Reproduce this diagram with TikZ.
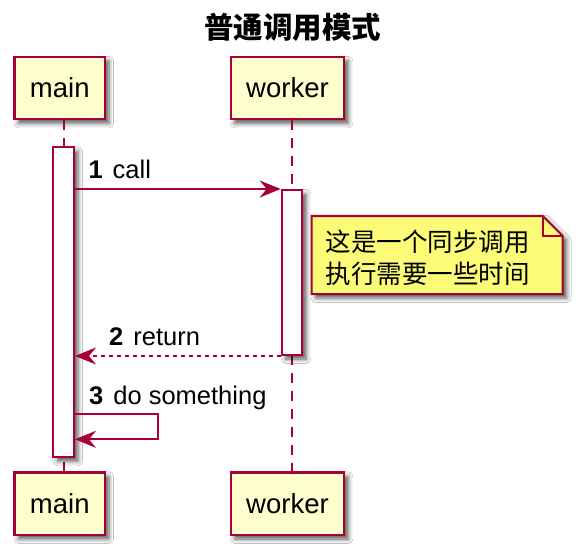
\documentclass[tikz,border=0pt]{standalone}
\usepackage{fontspec}
\setmainfont{Liberation Sans}
\newfontfamily\cjk{Noto Sans CJK SC}
\usetikzlibrary{arrows.meta,shadows.blur}
\definecolor{plborder}{HTML}{A80036}
\definecolor{plfill}{HTML}{FEFECE}
\definecolor{plnote}{HTML}{FBFB77}
\tikzset{
  shad/.style={blur shadow={shadow xshift=4pt, shadow yshift=-4pt, shadow blur radius=4.5pt, shadow opacity=65}},
  participant/.style={draw=plborder, line width=2.2pt, fill=plfill, shad, inner sep=0pt,
     font=\fontsize{27.5}{33}\selectfont},
  activation/.style={draw=plborder, line width=2pt, fill=white, shad, inner sep=0pt, minimum width=20.6pt},
  lifeline/.style={draw=plborder, line width=2pt, dash pattern=on 10pt off 8pt},
  msg/.style={draw=plborder, line width=2pt, -{Stealth[length=21pt,width=17pt,inset=7pt]}},
  retmsg/.style={msg, dash pattern=on 4pt off 4pt},
  msglabel/.style={anchor=base west, inner sep=0pt, font=\fontsize{25.5}{30}\selectfont},
  noteshape/.style={draw=plborder, line width=2pt, fill=plnote, shad, line join=miter},
  notetext/.style={anchor=west, inner sep=0pt, align=left, font=\cjk\fontsize{25.5}{31.6}\selectfont},
  titletext/.style={inner sep=0pt, font=\cjk\bfseries\fontsize{29.5}{35}\selectfont}
}
\begin{document}
\begin{tikzpicture}[x=1pt,y=-1pt]
\useasboundingbox (0,0) rectangle (578,556);
\fill[white] (0,0) rectangle (578,556);

\node[titletext] (title) at (292.5,27) {普通调用模式};

% participants
\node[participant, minimum width=90.5pt, minimum height=62.5pt] (mtop) at (59.75,88.1) {main};
\node[participant, minimum width=113.6pt, minimum height=62.6pt] (wtop) at (287.5,88.1) {worker};
\node[participant, minimum width=90.5pt, minimum height=62.5pt] (mbot) at (59.75,503.7) {main};
\node[participant, minimum width=113.6pt, minimum height=62.6pt] (wbot) at (287.5,503.7) {worker};

% lifelines
\coordinate (mx) at (63.5,0);
\coordinate (wx) at (292,0);
\draw[lifeline] (mx |- mtop.south) -- (mx |- mbot.north);
\draw[lifeline] (wx |- wtop.south) -- (wx |- wbot.north);

% activations
\node[activation, minimum height=310pt] (mact) at (63.7,302.3) {};
\node[activation, minimum height=165pt] (wact) at (292,272.5) {};

% message 1
\draw[msg] (mact.east |- wact.north) -- (wact.north west);
\node[msglabel] (l1) at (88.3,179) {\textbf{1}\hspace{10pt}call};

% note
\coordinate (nnw) at (311.7,216);
\coordinate (nse) at (562.7,294);
\coordinate (nfa) at (542.7,216);
\coordinate (nfb) at (562.7,236);
\path[noteshape] (nnw) -- (nfa) -- (nfb) -- (nse) -- (nnw |- nse) -- cycle;
\draw[draw=plborder, line width=2pt] (nfa) |- (nfb);
\node[notetext] (note) at (325.7,257.5) {这是一个同步调用\\执行需要一些时间};

% message 2 (return)
\draw[retmsg] (wact.south west) -- (mact.east |- wact.south);
\node[msglabel] (l2) at (109,345) {\textbf{2}\hspace{10pt}return};

% message 3 (self)
\coordinate (sr) at (157.7,414);
\coordinate (sb) at (157.7,439.3);
\draw[msg] (mact.east |- sr) -- (sr) -- (sb) -- (mact.east |- sb);
\node[msglabel] (l3) at (89,404) {\textbf{3}\hspace{10pt}do something};
\end{tikzpicture}
\end{document}
